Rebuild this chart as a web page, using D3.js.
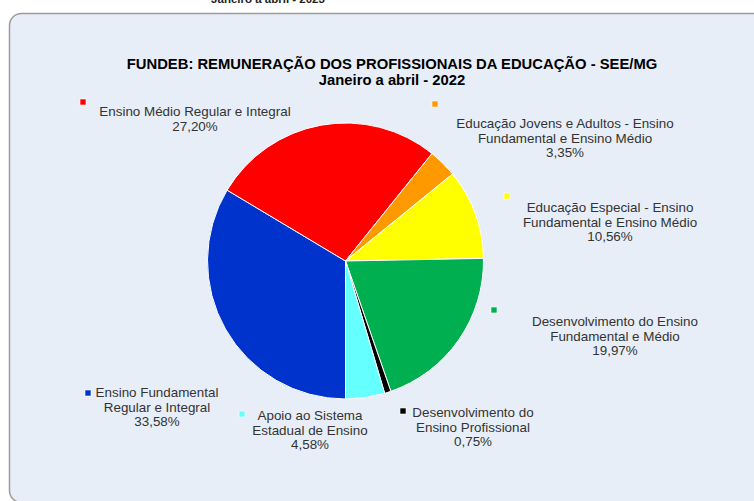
<!DOCTYPE html>
<html>
<head>
<meta charset="utf-8">
<script src="https://cdn.jsdelivr.net/npm/d3@7"></script>
<style>
  body { margin: 0; background: #ffffff; }
  svg { display: block; font-family: "Liberation Sans", Arial, sans-serif; }
</style>
</head>
<body>
<svg class="chart"></svg>
<script>
// data, in the order the slices are drawn (clockwise, starting at 6 o'clock)
var categories = [
  "Ensino Fundamental Regular e Integral",
  "Ensino Médio Regular e Integral",
  "Educação Jovens e Adultos - Ensino Fundamental e Ensino Médio",
  "Educação Especial - Ensino Fundamental e Ensino Médio",
  "Desenvolvimento do Ensino Fundamental e Médio",
  "Desenvolvimento do Ensino Profissional",
  "Apoio ao Sistema Estadual de Ensino"
];
var values = [33.58, 27.20, 3.35, 10.56, 19.97, 0.75, 4.58];
var valueLabels = ["33,58%", "27,20%", "3,35%", "10,56%", "19,97%", "0,75%", "4,58%"];
// how each label is broken into lines
var labelLines = [
  ["Ensino Fundamental", "Regular e Integral"],
  ["Ensino Médio Regular e Integral"],
  ["Educação Jovens e Adultos - Ensino", "Fundamental e Ensino Médio"],
  ["Educação Especial - Ensino", "Fundamental e Ensino Médio"],
  ["Desenvolvimento do Ensino", "Fundamental e Médio"],
  ["Desenvolvimento do", "Ensino Profissional"],
  ["Apoio ao Sistema", "Estadual de Ensino"]
];

// styles
var sliceColors = ["#0033cc", "#ff0000", "#ff9900", "#ffff00", "#00b050", "#000000", "#66ffff"];

// label layout: centre of text block, first baseline, and key position
var labelLayout = [
  { x: 157, y: 397, kx: 85, ky: 390 },
  { x: 195, y: 116, kx: 80, ky: 99 },
  { x: 565, y: 128, kx: 432, ky: 101 },
  { x: 610, y: 212, kx: 504, ky: 193 },
  { x: 615, y: 326, kx: 491, ky: 307 },
  { x: 473, y: 417, kx: 400, ky: 408 },
  { x: 310, y: 420, kx: 239, ky: 411 }
];

var width = 754;
var height = 501;
var cx = 345.5, cy = 261, radius = 138;

var svg = d3.select(".chart")
  .attr("width", width)
  .attr("height", height);

// piece of the previous chart's subtitle, cut off at the top
svg.append("text")
  .attr("x", 268)
  .attr("y", 2.5)
  .attr("text-anchor", "middle")
  .style("font-size", "11.5px")
  .style("font-weight", "bold")
  .style("fill", "#222")
  .text("Janeiro a abril - 2023");

// chart panel (runs past the right and bottom edges)
svg.append("rect")
  .attr("x", 9.5)
  .attr("y", 13.5)
  .attr("width", 780)
  .attr("height", 489)
  .attr("rx", 12)
  .attr("ry", 12)
  .style("fill", "#e8eef7")
  .style("stroke", "#9c9c9c")
  .style("stroke-width", 1.5);

// title
var title = svg.append("text")
  .attr("text-anchor", "middle")
  .style("font-size", "14.8px")
  .style("font-weight", "bold")
  .style("fill", "#000");
title.append("tspan").attr("x", 392).attr("y", 69)
  .text("FUNDEB: REMUNERAÇÃO DOS PROFISSIONAIS DA EDUCAÇÃO - SEE/MG");
title.append("tspan").attr("x", 392).attr("y", 85)
  .text("Janeiro a abril - 2022");

// pie
var pie = d3.pie()
  .sort(null)
  .startAngle(Math.PI)
  .endAngle(3 * Math.PI)
  .value(function(d) { return d; });

var arc = d3.arc()
  .innerRadius(0)
  .outerRadius(radius);

var g = svg.append("g")
  .attr("transform", "translate(" + cx + "," + cy + ")");

g.selectAll("path")
  .data(pie(values))
  .enter().append("path")
  .attr("d", arc)
  .style("fill", function(d, i) { return sliceColors[i]; })
  .style("stroke", "#ffffff")
  .style("stroke-width", 1);

// data labels with legend key
var labels = svg.selectAll(".label")
  .data(categories)
  .enter().append("g")
  .attr("class", "label");

labels.append("rect")
  .attr("x", function(d, i) { return labelLayout[i].kx; })
  .attr("y", function(d, i) { return labelLayout[i].ky; })
  .attr("width", 6)
  .attr("height", 6)
  .style("fill", function(d, i) { return sliceColors[i]; })
  .style("stroke", "#ffffff")
  .style("stroke-width", 0.6);

labels.append("text")
  .attr("text-anchor", "middle")
  .style("font-size", "13.4px")
  .style("fill", "#333333")
  .each(function(d, i) {
    var t = d3.select(this);
    var lines = labelLines[i].concat([valueLabels[i]]);
    lines.forEach(function(line, j) {
      t.append("tspan")
        .attr("x", labelLayout[i].x)
        .attr("y", labelLayout[i].y + j * 14.5)
        .text(line);
    });
  });
</script>
</body>
</html>
